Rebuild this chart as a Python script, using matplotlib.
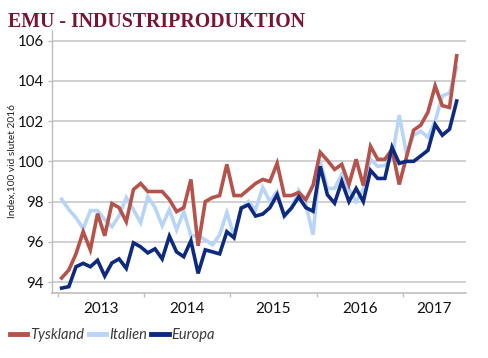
import matplotlib
matplotlib.use("Agg")
import matplotlib.pyplot as plt
import numpy as np

# Monthly data, Jan 2013 - Aug 2017
start_year = 2013
tyskland = [94.2, 94.6, 95.4, 96.5, 95.6, 97.4, 96.3, 97.9, 97.7, 97.0,
            98.6, 98.9, 98.5, 98.5, 98.5, 98.1, 97.5, 97.7, 99.1, 95.8,
            98.0, 98.2, 98.3, 99.85, 98.3, 98.3, 98.6, 98.9, 99.1, 99.0,
            99.9, 98.3, 98.3, 98.45, 98.1, 98.8, 100.45, 100.05, 99.6, 99.85,
            98.85, 100.1, 98.8, 100.75, 100.1, 100.1, 100.6, 98.85, 100.2, 101.55,
            101.8, 102.45, 103.75, 102.77, 102.68, 105.25]
italien = [98.12, 97.6, 97.2, 96.65, 97.55, 97.55, 97.1, 96.75, 97.3, 98.2,
           97.6, 96.95, 98.25, 97.7, 96.8, 97.6, 96.6, 97.5, 96.3, 96.3,
           96.1, 95.85, 96.35, 97.45, 96.3, 97.6, 98.0, 97.6, 98.7, 98.0,
           98.5, 97.23, 97.68, 98.55, 97.84, 96.35, 100.0, 98.65, 98.65, 99.35,
           98.6, 98.0, 98.6, 100.1, 99.75, 99.8, 100.15, 102.3, 100.4, 101.3,
           101.5, 101.2, 102.0, 103.25, 103.4, 104.65]
europa = [93.7, 93.77, 94.76, 94.93, 94.76, 95.08, 94.3, 94.95, 95.15, 94.68,
          95.95, 95.75, 95.45, 95.65, 95.15, 96.28, 95.5, 95.26, 96.05, 94.43,
          95.6, 95.5, 95.4, 96.5, 96.2, 97.68, 97.84, 97.28, 97.38, 97.7,
          98.34, 97.3, 97.68, 98.23, 97.7, 97.52, 99.75, 98.34, 97.92, 99.0,
          98.0, 98.65, 98.0, 99.55, 99.15, 99.15, 100.7, 99.9, 100.0, 100.0,
          100.27, 100.55, 101.83, 101.3, 101.6, 103.0]
years = ["2013", "2014", "2015", "2016", "2017"]
yticks = [94, 96, 98, 100, 102, 104, 106]

n = len(tyskland)
t = start_year + (np.arange(n) + 0.5) / 12.0

fig = plt.figure(figsize=(4.88, 3.58), dpi=100)
ax = fig.add_axes([52/488, 1-292.7/358, (466-52)/488, (292.7-30)/358])

c_ty = "#b5534b"
c_it = "#b8d5f7"
c_eu = "#0e2a80"
lw = 2.6
ax.plot(t, tyskland, color=c_ty, lw=lw, label="Tyskland", solid_joinstyle="miter", zorder=3)
ax.plot(t, italien, color=c_it, lw=lw, label="Italien", solid_joinstyle="miter", zorder=2)
ax.plot(t, europa, color=c_eu, lw=lw, label="Europa", solid_joinstyle="miter", zorder=4)

xl, xr = 2012.930, 2017.733
ax.set_xlim(xl, xr)
ax.set_ylim(93.47, 106.53)

ax.set_yticks(yticks)
ax.set_yticklabels([str(v) for v in yticks])
ax.yaxis.grid(True, color="#c3c3c3", lw=1.1)
ax.set_axisbelow(True)

yrs = [int(y) for y in years]
ax.set_xticks(yrs)
ax.set_xticklabels([""] * len(yrs))
mids = [(y + min(y + 1, xr)) / 2 for y in yrs]
ax.set_xticks(mids, minor=True)
ax.set_xticklabels(years, minor=True)
ax.tick_params(axis="x", which="minor", length=0, pad=7, labelsize=11, labelcolor="#111111")
ax.tick_params(axis="x", which="major", length=3, width=1, color="#bfbfbf", direction="out")
ax.tick_params(axis="y", length=3, width=1, color="#bfbfbf", pad=3, labelsize=10.8, labelcolor="#111111")

for s in ["top", "right"]:
    ax.spines[s].set_visible(False)
ax.spines["left"].set_color("#bfbfbf")
ax.spines["bottom"].set_color("#bfbfbf")
ax.spines["left"].set_linewidth(1.0)
ax.spines["bottom"].set_linewidth(1.2)

for lab in ax.get_xticklabels(minor=True) + ax.get_yticklabels():
    lab.set_fontfamily("Lato")

fig.text(12/488, 1-161/358, "Index,100 vid slutet 2016", rotation=90, fontsize=7.3,
         family="Lato", color="#222222", ha="center", va="center")

fig.text(8/488, 1-27/358, "EMU - INDUSTRIPRODUKTION", fontsize=14.3, fontweight="bold",
         family="Liberation Serif", color="#7a1430", ha="left", va="baseline")

leg = fig.legend(loc="center left", bbox_to_anchor=(4/488, 1-335/358), ncol=3, frameon=False,
                 handlelength=1.2, handletextpad=0.2, columnspacing=0.3,
                 prop={"family": "Lato", "style": "italic", "size": 10.5}, borderaxespad=0)
for txt in leg.get_texts():
    txt.set_color("#3a3a3a")
for h in leg.get_lines():
    h.set_linewidth(3.5)

fig.savefig("out.png", dpi=100)
